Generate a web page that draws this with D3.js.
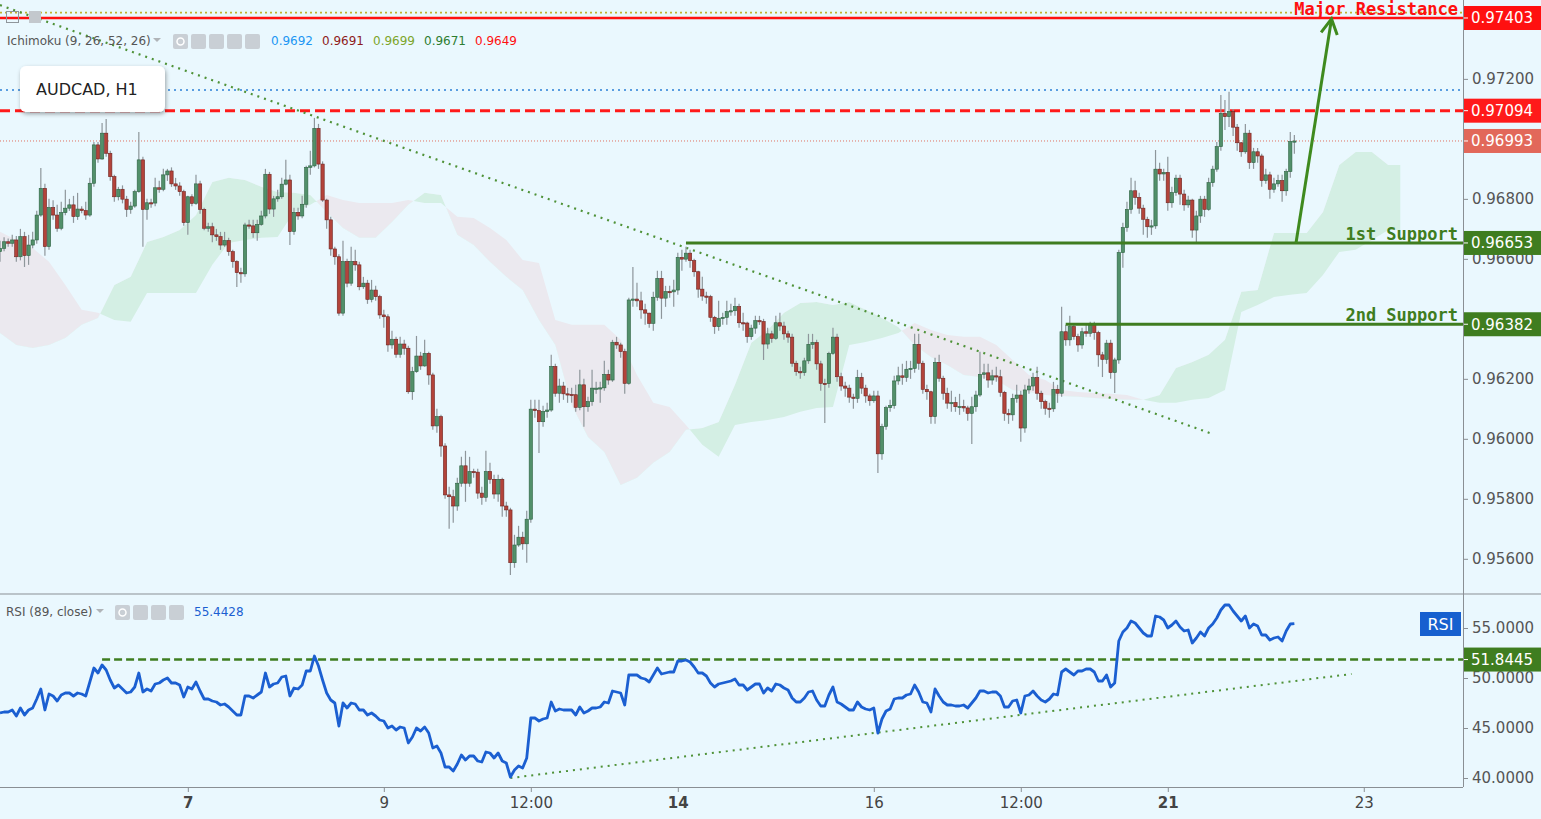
<!DOCTYPE html>
<html><head><meta charset="utf-8">
<script src="https://cdn.jsdelivr.net/npm/d3@7"></script>
<style>body{margin:0;background:#eaf8fe;}svg{display:block}</style>
</head><body><svg id="c" width="1541" height="819"></svg>
<script>
// ---------------- DATA ----------------
const firstOpen = 0.96624;
const closes = [
.96635,.96657,.96652,.96663,.96607,.96674,.96611,.96646,.96663,.96746,
.96835,.96641,.96771,.96746,.96702,.96754,.96769,.96780,.96741,.96766,
.96761,.96746,.96852,.96980,.96933,.97019,.96952,.96874,.96807,.96832,
.96799,.96765,.96776,.96824,.96930,.96765,.96787,.96786,.96837,.96832,
.96880,.96893,.96850,.96843,.96824,.96721,.96807,.96785,.96850,.96765,
.96702,.96707,.96680,.96674,.96646,.96661,.96624,.96591,.96554,.96550,
.96713,.96710,.96687,.96715,.96743,.96882,.96766,.96800,.96807,.96849,
.96863,.96691,.96755,.96743,.96782,.96905,.96910,.97035,.96916,.96796,
.96730,.96633,.96607,.96419,.96591,.96519,.96591,.96580,.96507,.96519,
.96465,.96496,.96474,.96413,.96407,.96313,.96332,.96282,.96316,.96302,
.96157,.96224,.96276,.96243,.96285,.96213,.96043,.96074,.95976,.95813,
.95807,.95776,.95852,.95910,.95852,.95891,.95889,.95819,.95805,.95891,
.95865,.95816,.95865,.95776,.95763,.95587,.95646,.95672,.95650,.95732,
.96099,.96094,.96057,.96091,.96096,.96241,.96152,.96176,.96150,.96148,
.96147,.96105,.96180,.96107,.96124,.96169,.96169,.96170,.96215,.96196,
.96322,.96313,.96291,.96185,.96463,.96466,.96460,.96430,.96419,.96385,
.96472,.96535,.96469,.96491,.96490,.96496,.96605,.96599,.96619,.96594,
.96557,.96499,.96476,.96474,.96405,.96374,.96402,.96405,.96424,.96427,
.96441,.96387,.96386,.96341,.96369,.96394,.96391,.96316,.96350,.96335,
.96387,.96376,.96350,.96339,.96252,.96224,.96221,.96260,.96315,.96321,
.96250,.96185,.96184,.96285,.96339,.96207,.96176,.96169,.96139,.96135,
.96205,.96169,.96143,.96127,.96143,.95950,.96041,.96104,.96111,.96193,
.96210,.96205,.96232,.96235,.96315,.96252,.96165,.96157,.96074,.96255,
.96202,.96152,.96119,.96121,.96107,.96108,.96103,.96085,.96107,.96146,
.96215,.96220,.96196,.96210,.96207,.96155,.96085,.96080,.96135,.96146,
.96036,.96163,.96176,.96204,.96152,.96124,.96102,.96100,.96165,.96152,
.96357,.96330,.96374,.96341,.96313,.96357,.96352,.96380,.96354,.96280,
.96265,.96319,.96221,.96263,.96621,.96704,.96765,.96827,.96805,.96769,
.96732,.96707,.96710,.96899,.96883,.96888,.96787,.96821,.96869,.96816,
.96780,.96796,.96696,.96743,.96799,.96765,.96854,.96899,.96974,.97085,
.97074,.97091,.97039,.96987,.96957,.97019,.96921,.96957,.96943,.96861,
.96880,.96832,.96850,.96861,.96827,.96891,.96991,.96993];
const highs = [
.96660,.96672,.96668,.96680,.96676,.96700,.96690,.96680,.96690,.96760,
.96903,.96850,.96800,.96795,.96780,.96790,.96830,.96800,.96810,.96820,
.96775,.96790,.96870,.96990,.96990,.97053,.97066,.96960,.96880,.96840,
.96845,.96810,.96790,.96830,.97023,.96940,.96800,.96800,.96870,.96860,
.96900,.96900,.96905,.96870,.96855,.96830,.96810,.96815,.96880,.96860,
.96770,.96720,.96720,.96700,.96690,.96690,.96670,.96630,.96595,.96570,
.96720,.96730,.96730,.96730,.96760,.96900,.96890,.96810,.96830,.96870,
.96930,.96880,.96770,.96770,.96810,.96910,.96960,.97070,.97050,.96925,
.96800,.96740,.96640,.96615,.96660,.96600,.96640,.96630,.96590,.96540,
.96530,.96530,.96510,.96480,.96430,.96415,.96360,.96340,.96340,.96330,
.96310,.96240,.96343,.96290,.96330,.96290,.96220,.96100,.96080,.95985,
.95840,.95830,.95870,.95940,.95960,.95940,.95900,.95900,.95840,.95960,
.95920,.95880,.95880,.95870,.95790,.95770,.95680,.95710,.95690,.95760,
.96130,.96130,.96130,.96110,.96120,.96280,.96250,.96200,.96190,.96170,
.96170,.96180,.96230,.96200,.96140,.96230,.96190,.96190,.96260,.96230,
.96330,.96340,.96320,.96300,.96470,.96573,.96520,.96490,.96450,.96420,
.96490,.96560,.96560,.96510,.96510,.96530,.96620,.96630,.96640,.96630,
.96600,.96560,.96540,.96490,.96480,.96410,.96460,.96420,.96460,.96450,
.96470,.96450,.96420,.96390,.96380,.96410,.96410,.96400,.96370,.96360,
.96410,.96420,.96390,.96360,.96350,.96260,.96240,.96270,.96350,.96350,
.96330,.96260,.96200,.96290,.96370,.96350,.96220,.96190,.96180,.96150,
.96230,.96220,.96180,.96150,.96160,.96160,.96050,.96110,.96130,.96210,
.96240,.96250,.96260,.96260,.96350,.96350,.96260,.96180,.96160,.96270,
.96280,.96210,.96170,.96160,.96140,.96150,.96130,.96110,.96140,.96160,
.96290,.96250,.96250,.96230,.96240,.96230,.96160,.96100,.96150,.96180,
.96160,.96180,.96200,.96220,.96240,.96160,.96130,.96120,.96190,.96180,
.96440,.96380,.96410,.96380,.96350,.96370,.96380,.96390,.96390,.96360,
.96290,.96330,.96330,.96270,.96630,.96720,.96790,.96870,.96860,.96820,
.96780,.96740,.96730,.96963,.96920,.96900,.96940,.96840,.96880,.96880,
.96830,.96810,.96800,.96760,.96810,.96810,.96870,.96910,.96990,.97146,
.97130,.97157,.97100,.97050,.96990,.97050,.97030,.96970,.96970,.96950,
.96900,.96890,.96870,.96880,.96880,.96900,.97023,.97013];
const lows = [
.96590,.96625,.96640,.96640,.96590,.96595,.96573,.96580,.96635,.96650,
.96740,.96610,.96630,.96730,.96690,.96695,.96745,.96760,.96720,.96730,
.96752,.96730,.96740,.96840,.96920,.96930,.96940,.96860,.96790,.96795,
.96785,.96740,.96750,.96770,.96820,.96640,.96730,.96770,.96775,.96820,
.96825,.96860,.96840,.96830,.96810,.96710,.96680,.96775,.96780,.96750,
.96695,.96690,.96655,.96660,.96630,.96640,.96610,.96570,.96506,.96520,
.96540,.96700,.96670,.96660,.96710,.96735,.96750,.96740,.96790,.96800,
.96845,.96646,.96680,.96730,.96735,.96770,.96880,.96905,.96900,.96790,
.96700,.96610,.96580,.96410,.96410,.96505,.96510,.96560,.96495,.96500,
.96450,.96455,.96460,.96400,.96370,.96290,.96300,.96270,.96270,.96280,
.96150,.96130,.96220,.96230,.96240,.96180,.96030,.96020,.95940,.95800,
.95700,.95720,.95760,.95840,.95790,.95840,.95870,.95800,.95780,.95790,
.95850,.95800,.95790,.95740,.95740,.95546,.95570,.95640,.95630,.95587,
.95720,.96070,.95953,.96040,.96070,.96090,.96140,.96120,.96130,.96120,
.96120,.96090,.96095,.96040,.96090,.96110,.96150,.96120,.96160,.96180,
.96190,.96300,.96270,.96150,.96180,.96440,.96440,.96400,.96380,.96370,
.96360,.96460,.96400,.96440,.96470,.96440,.96480,.96560,.96590,.96570,
.96540,.96470,.96460,.96450,.96390,.96350,.96360,.96380,.96380,.96410,
.96410,.96370,.96360,.96320,.96330,.96350,.96380,.96263,.96300,.96320,
.96330,.96360,.96330,.96320,.96240,.96210,.96200,.96210,.96250,.96300,
.96230,.96160,.96053,.96170,.96280,.96190,.96160,.96140,.96120,.96100,
.96120,.96150,.96120,.96110,.96120,.95886,.95930,.96030,.96090,.96100,
.96180,.96180,.96190,.96200,.96220,.96230,.96150,.96130,.96050,.96050,
.96190,.96130,.96100,.96090,.96090,.96080,.96090,.96060,.95983,.96090,
.96140,.96200,.96170,.96180,.96190,.96140,.96060,.96050,.96060,.96120,
.95990,.96020,.96150,.96160,.96130,.96100,.96080,.96070,.96090,.96120,
.96140,.96310,.96310,.96330,.96290,.96300,.96340,.96340,.96330,.96240,
.96206,.96250,.96200,.96153,.96250,.96570,.96690,.96750,.96780,.96750,
.96680,.96670,.96680,.96700,.96860,.96860,.96760,.96770,.96810,.96780,
.96760,.96770,.96670,.96650,.96720,.96740,.96760,.96840,.96890,.96960,
.97030,.97040,.97010,.96960,.96940,.96950,.96900,.96900,.96920,.96840,
.96850,.96800,.96820,.96840,.96790,.96810,.96870,.96950];
const rsiValues = [
46.5,46.6,46.6,46.8,46.2,47.0,46.3,46.8,47.0,47.9,
48.9,46.8,48.4,48.2,47.7,48.3,48.5,48.5,48.2,48.5,
48.4,48.2,49.6,51.0,50.5,51.3,50.8,49.8,49.0,49.3,
48.9,48.5,48.6,49.1,50.5,48.6,48.9,48.7,49.4,49.5,
49.8,50.0,49.5,49.5,49.3,48.1,49.1,48.9,49.6,48.7,
47.9,47.9,47.7,47.6,47.3,47.4,47.1,46.7,46.3,46.3,
48.2,48.2,48.0,48.3,48.6,50.5,49.1,49.4,49.5,50.1,
50.2,48.2,49.0,48.9,49.3,50.7,50.7,52.2,51.2,49.8,
48.5,47.8,47.5,45.2,47.5,47.0,47.5,47.4,46.8,46.8,
46.3,46.5,46.2,45.8,45.7,45.0,45.2,44.8,45.1,45.0,
43.5,44.1,45.0,44.7,45.1,44.5,43.0,43.2,42.5,41.1,
41.1,40.7,41.4,42.3,41.8,42.2,42.2,41.7,41.6,42.6,
42.5,42.0,42.5,41.7,41.5,40.1,40.8,41.2,41.0,42.0,
46.0,46.0,45.7,45.9,46.0,47.6,46.7,46.9,46.8,46.8,
46.8,46.3,47.1,46.5,46.7,47.0,47.0,47.1,47.6,47.5,
48.7,48.6,48.5,47.3,50.3,50.3,50.3,50.0,49.9,49.6,
50.3,51.0,50.4,50.5,50.6,50.6,51.7,51.7,51.8,51.6,
51.1,50.5,50.5,50.2,49.5,49.1,49.4,49.5,49.6,49.7,
49.9,49.3,49.3,48.8,49.1,49.4,49.4,48.5,49.0,48.7,
49.4,49.3,49.0,48.8,48.0,47.6,47.6,48.0,48.6,48.7,
47.8,47.2,47.2,48.3,49.1,47.6,47.4,47.1,46.8,46.8,
47.6,47.1,46.9,46.8,47.0,44.5,45.9,46.7,46.9,47.9,
48.0,48.0,48.3,48.4,49.3,48.6,47.6,47.5,46.6,48.9,
48.2,47.6,47.3,47.3,47.2,47.2,47.3,47.0,47.5,48.0,
48.7,48.7,48.5,48.6,48.6,48.2,47.1,47.1,47.7,47.8,
46.5,48.2,48.3,48.7,48.2,47.8,47.6,47.9,48.4,48.3,
50.6,50.9,50.6,50.3,50.7,50.7,50.9,50.9,50.6,49.7,
49.7,50.3,49.1,49.5,53.7,54.6,55.0,55.7,55.5,55.0,
54.5,54.2,54.2,56.2,56.1,55.8,55.0,55.3,55.7,55.1,
54.7,54.8,53.5,54.0,54.6,54.2,55.0,55.4,56.0,56.8,
57.3,57.3,56.7,56.2,55.7,56.2,55.0,55.4,55.2,54.3,
54.3,53.8,54.0,54.1,53.7,54.7,55.4,55.4428];
const cloudBars = [0,4,8,12,16,20,24,28,32,36,40,44,48,52,56,60,64,68,72,76,80,84,88,92,96,100,104,108,112,116,120,124,128,132,136,140,144,148,152,156,160,164,168,172,176,180,184,188,192,196,200,204,208,212,216,220,224,228,232,236,240,244,248,252,256,260,264,268,272,276,280,284,288,292,296,300,304,308,312,316,320,324,328,332,336,340,343];
const spanA = [.96353,.96313,.96303,.96313,.96336,.96380,.96403,.96513,.96540,.96656,.96673,.96696,.96746,.96856,.96870,.96863,.96840,.96823,.96820,.96813,.96756,.96703,.96670,.96670,.96723,.96780,.96820,.96813,.96680,.96646,.96590,.96540,.96496,.96396,.96313,.96113,.96006,.95956,.95846,.95870,.95920,.95956,.96030,.96036,.96056,.96180,.96320,.96363,.96420,.96453,.96456,.96446,.96456,.96430,.96403,.96373,.96313,.96273,.96246,.96213,.96206,.96196,.96163,.96156,.96146,.96143,.96140,.96136,.96133,.96130,.96130,.96146,.96236,.96256,.96280,.96330,.96490,.96496,.96686,.96686,.96686,.96756,.96913,.96956,.96956,.96913,.96913];
const spanB = [.96690,.96663,.96636,.96590,.96513,.96430,.96420,.96396,.96390,.96486,.96486,.96486,.96486,.96580,.96653,.96663,.96670,.96673,.96756,.96780,.96813,.96796,.96786,.96786,.96786,.96796,.96786,.96786,.96740,.96736,.96703,.96663,.96596,.96586,.96396,.96380,.96380,.96380,.96330,.96213,.96120,.96106,.96046,.95980,.95940,.96046,.96056,.96063,.96073,.96090,.96103,.96106,.96313,.96323,.96336,.96353,.96386,.96363,.96346,.96340,.96340,.96313,.96263,.96213,.96196,.96163,.96156,.96153,.96150,.96146,.96130,.96120,.96120,.96130,.96136,.96163,.96423,.96446,.96473,.96480,.96486,.96546,.96623,.96630,.96663,.96696,.96696];
const trendBars = [0, 297];
const trendPrices = [0.97446, 0.96016];
const rsiTrendBars = [125, 331];
const rsiTrendVals = [40.0, 50.4];
const majorResistance = 0.97403;
const resistanceDashed = 0.97094;
const lastPrice = 0.96993;
const blueDotted = 0.97163;
const oliveDotted = 0.97421;
const support1 = 0.96653, support1Start = 168;
const support2 = 0.96382, support2Start = 261;
const arrowBars = [317.4, 326.1];
const arrowPrices = [0.96653, 0.97400];
const rsiLevel = 51.8445, rsiLevelStart = 25;
// axis labels visible in the reference (0.964, 0.970, 0.974 are covered by the tags)
const priceTicks = [0.956,0.958,0.960,0.962,0.966,0.968,0.972];
const rsiTicks = [40,45,50,55];
const xTickBars = [46,94,130,166,214,250,286,334];
const xTickLabels = ["7","9","12:00","14","16","12:00","21","23"];
const xTickBold = [true,false,false,true,false,false,true,false];
const ichiLabel = "Ichimoku (9, 26, 52, 26)";
const ichiValues = ["0.9692","0.9691","0.9699","0.9671","0.9649"];
const ichiColors = ["#2196f3","#8e1b1b","#7da52b","#2e7d32","#ff1010"];
const rsiLabel = "RSI (89, close)";
const rsiLast = "55.4428";

// ---------------- CHART ----------------
const svg = d3.select('#c');
const PR = 1463, MB = 593, RT = 595, RB = 787;
const x = d3.scaleLinear().domain([0, 358.3]).range([0, PR]);
const y = d3.scaleLinear().domain([0.95486, 0.97463]).range([MB, 0]);
const yr = d3.scaleLinear().domain([39.1, 58.3]).range([RB, RT]);
const FONT = "'DejaVu Sans', sans-serif";
const GREEN = '#3f7d20';

svg.append('rect').attr('width',1541).attr('height',819).attr('fill','#eaf8fe');
const defs = svg.append('defs');
defs.append('clipPath').attr('id','mainClip').append('rect').attr('x',0).attr('y',0).attr('width',PR).attr('height',MB);
defs.append('clipPath').attr('id','rsiClip').append('rect').attr('x',0).attr('y',RT).attr('width',PR).attr('height',RB-RT);
const cloud = cloudBars.map((b,i)=>({b, a:spanA[i], s:spanB[i]}));
defs.append('clipPath').attr('id','aboveA').append('path')
  .attr('d', d3.area().x(d=>x(d.b)).y0(0).y1(d=>y(d.a))(cloud));
defs.append('clipPath').attr('id','belowA').append('path')
  .attr('d', d3.area().x(d=>x(d.b)).y0(MB).y1(d=>y(d.a))(cloud));
const f = defs.append('filter').attr('id','shadow').attr('x','-20%').attr('y','-20%').attr('width','140%').attr('height','160%');
f.append('feDropShadow').attr('dx',1).attr('dy',2).attr('stdDeviation',2).attr('flood-color','#000').attr('flood-opacity',0.35);

const main = svg.append('g').attr('clip-path','url(#mainClip)');
const between = d3.area().x(d=>x(d.b)).y0(d=>y(d.a)).y1(d=>y(d.s));
main.append('path').attr('d', between(cloud)).attr('fill','#ebe9ef').attr('clip-path','url(#aboveA)');
main.append('path').attr('d', between(cloud)).attr('fill','#d4efe4').attr('clip-path','url(#belowA)');

function hline(g, yy, x1, color, w, dash){
  const l = g.append('line').attr('x1',x1).attr('x2',PR).attr('y1',yy).attr('y2',yy)
    .attr('stroke',color).attr('stroke-width',w);
  if (dash) l.attr('stroke-dasharray',dash);
  return l;
}
hline(main, y(oliveDotted), 0, '#c2b22e', 1.6, '2,3');
hline(main, y(majorResistance), 0, '#ff1010', 2.6);
hline(main, y(blueDotted), 0, '#5a9de0', 2, '2,4');
hline(main, y(resistanceDashed), 0, '#ff1a1a', 3, '10,5');
hline(main, y(lastPrice), 0, '#e0705f', 1, '1,2');

// dotted trend line
main.append('line').attr('x1',x(trendBars[0])).attr('y1',y(trendPrices[0]))
  .attr('x2',x(trendBars[1])).attr('y2',y(trendPrices[1]))
  .attr('stroke','#4f9238').attr('stroke-width',2.2).attr('stroke-dasharray','2,5');

// candles
const opens = [firstOpen].concat(closes.slice(0,-1));
const candles = closes.map((c,i)=>({i, o:opens[i], c, h:Math.max(highs[i],opens[i],c), l:Math.min(lows[i],opens[i],c)}));
const cg = main.append('g');
cg.selectAll('line.w').data(candles).join('line').attr('class','w')
  .attr('x1',d=>x(d.i)).attr('x2',d=>x(d.i)).attr('y1',d=>y(d.h)).attr('y2',d=>y(d.l))
  .attr('stroke','#8e969b').attr('stroke-width',1.2);
const bw = 3.3;
cg.selectAll('rect.b').data(candles).join('rect').attr('class','b')
  .attr('x',d=>x(d.i)-bw/2).attr('width',bw)
  .attr('y',d=>y(Math.max(d.o,d.c)))
  .attr('height',d=>Math.max(1.2, y(Math.min(d.o,d.c))-y(Math.max(d.o,d.c))))
  .attr('fill',d=>d.c>=d.o?'#52906a':'#b3433a')
  .attr('stroke',d=>d.c>=d.o?'#2d6242':'#6e2420').attr('stroke-width',0.6);

// supports
hline(main, y(support1), x(support1Start), GREEN, 3);
hline(main, y(support2), x(support2Start), GREEN, 3);

// arrow
const ax1 = x(arrowBars[0]), ay1 = y(arrowPrices[0]), ax2 = x(arrowBars[1]), ay2 = y(arrowPrices[1]);
main.append('line').attr('x1',ax1).attr('y1',ay1).attr('x2',ax2).attr('y2',ay2)
  .attr('stroke','#3f8a1e').attr('stroke-width',3);
const ang = Math.atan2(ay1-ay2, ax1-ax2), hl = 17, spread = 0.5;
const head = [[ax2+hl*Math.cos(ang+spread), ay2+hl*Math.sin(ang+spread)],[ax2,ay2],[ax2+hl*Math.cos(ang-spread), ay2+hl*Math.sin(ang-spread)]];
main.append('path').attr('d', d3.line()(head)).attr('fill','none').attr('stroke','#3f8a1e').attr('stroke-width',3).attr('stroke-linejoin','miter');

// annotations
const MONO = "'DejaVu Sans Mono', monospace";
svg.append('text').attr('x',1458).attr('y',y(majorResistance)-3).attr('text-anchor','end')
  .attr('font-family',MONO).attr('font-weight','bold').attr('font-size',17).attr('fill','#ff1010').text('Major Resistance');
svg.append('text').attr('x',1458).attr('y',y(support1)-3).attr('text-anchor','end')
  .attr('font-family',MONO).attr('font-weight','bold').attr('font-size',17).attr('fill',GREEN).text('1st Support');
svg.append('text').attr('x',1458).attr('y',y(support2)-3).attr('text-anchor','end')
  .attr('font-family',MONO).attr('font-weight','bold').attr('font-size',17).attr('fill',GREEN).text('2nd Support');

// RSI pane
const rg = svg.append('g').attr('clip-path','url(#rsiClip)');
hline(rg, yr(rsiLevel), x(rsiLevelStart), GREEN, 2.6, '8,4');
rg.append('line').attr('x1',x(rsiTrendBars[0])).attr('y1',yr(rsiTrendVals[0]))
  .attr('x2',x(rsiTrendBars[1])).attr('y2',yr(rsiTrendVals[1]))
  .attr('stroke','#4f9238').attr('stroke-width',2).attr('stroke-dasharray','2,5');
rg.append('path').datum(rsiValues)
  .attr('d', d3.line().x((d,i)=>x(i)).y(d=>yr(d)))
  .attr('fill','none').attr('stroke','#1b5fd1').attr('stroke-width',2.8).attr('stroke-linejoin','round');

// separators
svg.append('line').attr('x1',0).attr('x2',1541).attr('y1',594).attr('y2',594).attr('stroke','#8a8f94').attr('stroke-width',1);
svg.append('line').attr('x1',PR+0.5).attr('x2',PR+0.5).attr('y1',0).attr('y2',RB).attr('stroke','#8a8f94').attr('stroke-width',1);
svg.append('line').attr('x1',0).attr('x2',PR).attr('y1',RB+0.5).attr('y2',RB+0.5).attr('stroke','#8a8f94').attr('stroke-width',1);

// axes
function styleAxis(g, size, color){
  g.select('.domain').remove();
  g.selectAll('.tick line').attr('stroke','#8a8f94');
  g.selectAll('.tick text').attr('font-family',FONT).attr('font-size',size).attr('fill',color);
}
const yAxis = svg.append('g').attr('transform',`translate(${PR},0)`)
  .call(d3.axisRight(y).tickValues(priceTicks).tickSize(5).tickPadding(4).tickFormat(d3.format('.5f')));
styleAxis(yAxis, 15, '#555');
const rAxis = svg.append('g').attr('transform',`translate(${PR},0)`)
  .call(d3.axisRight(yr).tickValues(rsiTicks).tickSize(5).tickPadding(4).tickFormat(d3.format('.4f')));
styleAxis(rAxis, 15, '#555');
const xAxis = svg.append('g').attr('transform',`translate(0,${RB})`)
  .call(d3.axisBottom(x).tickValues(xTickBars).tickSize(5).tickPadding(5).tickFormat((d,i)=>xTickLabels[i]));
styleAxis(xAxis, 15, '#444');
xAxis.selectAll('.tick text').attr('font-weight',(d,i)=>xTickBold[i]?'bold':'normal');

// price tags
function tag(yy, label, fill){
  svg.append('rect').attr('x',PR+1).attr('y',yy-12).attr('width',1541-PR-1).attr('height',24).attr('fill',fill);
  svg.append('line').attr('x1',PR+1).attr('x2',PR+5).attr('y1',yy).attr('y2',yy).attr('stroke','#fff').attr('stroke-width',1);
  svg.append('text').attr('x',PR+8).attr('y',yy).attr('dy','0.36em').attr('font-family',FONT).attr('font-size',15)
    .attr('fill','#fff').text(label);
}
tag(y(majorResistance), d3.format('.5f')(majorResistance), '#ff1010');
tag(y(resistanceDashed), d3.format('.5f')(resistanceDashed), '#ff1a1a');
tag(y(lastPrice), d3.format('.5f')(lastPrice), '#e2685a');
tag(y(support1), d3.format('.5f')(support1), GREEN);
tag(y(support2), d3.format('.5f')(support2), GREEN);
tag(yr(rsiLevel), d3.format('.4f')(rsiLevel), GREEN);
svg.append('rect').attr('x',1420).attr('y',612).attr('width',41).attr('height',24).attr('fill','#1760cf');
svg.append('text').attr('x',1440.5).attr('y',624).attr('dy','0.36em').attr('text-anchor','middle')
  .attr('font-family',FONT).attr('font-size',16).attr('fill','#fff').text('RSI');

// legends
function icons(x0, yc, n){
  for (let k=0;k<n;k++){
    svg.append('rect').attr('x',x0+k*18).attr('y',yc-7).attr('width',15).attr('height',15).attr('rx',2).attr('fill','#c9cfd5');
  }
  svg.append('circle').attr('cx',x0+7.5).attr('cy',yc+0.5).attr('r',3.5).attr('fill','none').attr('stroke','#fff').attr('stroke-width',1.5);
}
svg.append('text').attr('x',7).attr('y',41).attr('dy','0.36em').attr('font-family',FONT).attr('font-size',12).attr('fill','#555').text(ichiLabel);
svg.append('path').attr('d','M153,38 L161,38 L157,42 Z').attr('fill','#b0b4b8');
icons(173, 41, 5);
let vx = 271;
ichiValues.forEach((v,i)=>{
  svg.append('text').attr('x',vx).attr('y',41).attr('dy','0.36em').attr('font-family',FONT).attr('font-size',12)
    .attr('fill',ichiColors[i]).text(v);
  vx += 51;
});
svg.append('text').attr('x',6).attr('y',612).attr('dy','0.36em').attr('font-family',FONT).attr('font-size',12).attr('fill','#555').text(rsiLabel);
svg.append('path').attr('d','M96,609 L104,609 L100,613 Z').attr('fill','#b0b4b8');
icons(115, 612, 4);
svg.append('text').attr('x',194).attr('y',612).attr('dy','0.36em').attr('font-family',FONT).attr('font-size',12).attr('fill','#1b5fd1').text(rsiLast);

// small top-left icons
svg.append('rect').attr('x',6.5).attr('y',11.5).attr('width',12).attr('height',11).attr('fill','none').attr('stroke','#8f969b').attr('stroke-width',1);
svg.append('rect').attr('x',29).attr('y',11).attr('width',12).attr('height',12).attr('fill','#c3c8cd');

// symbol box
svg.append('rect').attr('x',20).attr('y',66).attr('width',145).attr('height',46).attr('rx',6).attr('fill','#fff').attr('filter','url(#shadow)');
svg.append('text').attr('x',36).attr('y',89).attr('dy','0.36em').attr('font-family',FONT).attr('font-size',16).attr('fill','#222').text('AUDCAD, H1');
</script></body></html>
